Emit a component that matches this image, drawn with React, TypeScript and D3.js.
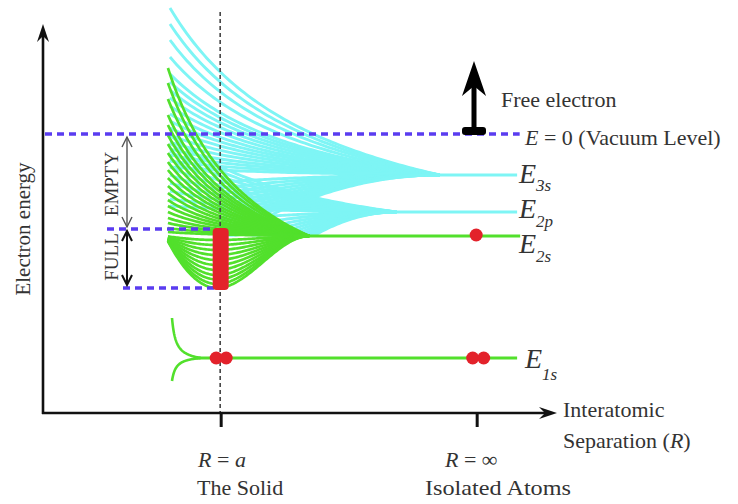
import React from "react";
import * as d3 from "d3";

// ---- data (energies in arbitrary units, E = 0 is the vacuum level; R in arbitrary units) ----
const R_A = 3.48; // R = a (the solid)
const R_INF = 8.48; // R = ∞ (isolated atoms)
const R_START = 2.44; // left edge of band curves
const R_END = 9.26; // right end of atomic levels

const E_VAC = 0;
const E_3S = -4.1;
const E_2P = -7.8;
const E_2S = -10.2;
const E_1S = -22.4;
const E_BAND_TOP = -9.5;
const E_BAND_BOTTOM = -15.4;

// convergence points of each band
const R_CONV_3S = 7.75;
const R_CONV_2P = 6.9;
const R_CONV_2S = 5.2;
const R_MIN_2S = 3.4;
const R_CONV_1S = 3.08;

// starting energies of the split levels
const cyan3sUpper = [
  12.6, 11.0, 9.4, 7.7, 6.0, 5.2, 4.4, 3.6, 2.8, 2.0, 1.3, 0.6, -0.1, -0.8, -1.5, -2.1, -2.7, -3.3,
];
const cyan3sLower = [-4.8, -5.4, -6.0, -6.6, -7.2, -7.8, -8.4, -9.0, -9.6, -10.2, -10.8];
const cyan2pUpper = [-0.1, -0.9, -1.7, -2.5, -3.3, -4.1, -4.9, -5.7, -6.5, -7.2];
const cyan2pLower = [-8.6, -9.6, -10.6, -11.6, -12.6, -13.6, -14.6, -15.6, -16.6, -17.6, -18.5];
const green2sUpper = [
  6.6, 5.1, 3.5, 1.9, 0.9, -0.1, -1.0, -1.9, -2.8, -3.6, -4.4, -5.2, -5.9, -6.6, -7.2, -7.8, -8.4, -8.9, -9.4, -9.8,
];
const green2sLowerDepth = [0.4, 0.9, 1.4, 1.9, 2.4, 2.9, 3.4, 3.9, 4.35, 4.8, 5.2];
const green1sFork = [-18.4, -24.7];

const CYAN = "#7ef5f5";
const GREEN = "#52e02c";
const RED = "#e3222b";
const BLUE = "#5a3cf0";
const TEXT = "#333";
const FONT = "'Liberation Serif', 'Times New Roman', serif";

const W = 738;
const H = 504;

const x = d3.scaleLinear().domain([0, 10]).range([43, 555]);
const y = d3.scaleLinear().domain([-27.9, 13.4]).range([413, 0]);

const line = d3
  .line<[number, number]>()
  .x((d) => x(d[0]))
  .y((d) => y(d[1]));

function samples(r0: number, r1: number, n = 80) {
  return d3.range(n + 1).map((i) => r0 + ((r1 - r0) * i) / n);
}

// 1/R-like approach to the atomic level
function hyper(r: number, r0: number, rc: number, r1: number) {
  const a = 1 / (r - r1) - 1 / (rc - r1);
  const b = 1 / (r0 - r1) - 1 / (rc - r1);
  return a / b;
}

function hyperCurve(e0: number, level: number, r0: number, rc: number, r1: number) {
  return line(samples(r0, rc).map((r) => [r, level + (e0 - level) * hyper(r, r0, rc, r1)] as [number, number])) || "";
}

function quadCurve(e0: number, level: number, r0: number, rc: number) {
  return line(
    samples(r0, rc).map((r) => {
      const s = (r - r0) / (rc - r0);
      return [r, level + (e0 - level) * (1 - s) * (1 - s)] as [number, number];
    })
  ) || "";
}

function uCurve(depth: number) {
  return line(
    samples(R_START, R_CONV_2S, 100).map((r) => {
      let u: number;
      if (r <= R_MIN_2S) {
        const s = (r - R_START) / (R_MIN_2S - R_START);
        u = 0.1 + 0.9 * (1 - (1 - s) * (1 - s));
      } else {
        const s = (r - R_MIN_2S) / (R_CONV_2S - R_MIN_2S);
        u = 1 - (3 * s * s - 2 * s * s * s);
      }
      return [r, E_2S - depth * u] as [number, number];
    })
  ) || "";
}

const CYAN_R1 = x.invert(12.6);
const GREEN_R1 = x.invert(80);
const FORK_R1 = x.invert(168);
const FORK_R0 = x.invert(172);

function hLine(e: number, r0: number, r1: number) {
  return line([
    [r0, e],
    [r1, e],
  ]) || "";
}

export default function App() {
  const xa = x(R_A);
  const xi = x(R_INF);
  const yAxisX = x(0);
  const xAxisY = y(-27.9);

  return (
    <svg width={W} height={H} style={{ position: "absolute", left: 0, top: 0, background: "#fff", fontFamily: FONT }}>
      <defs>
        <clipPath id="aboveTwoS">
          <rect x={0} y={0} width={W} height={y(E_2S) + 0.5} />
        </clipPath>
      </defs>

      {/* cyan bands: 3s and 2p */}
      <g clipPath="url(#aboveTwoS)" fill="none" stroke={CYAN} strokeWidth={2.9}>
        {cyan3sUpper.map((e, i) => (
          <path key={"a" + i} d={hyperCurve(e, E_3S, R_START + 0.04, R_CONV_3S, CYAN_R1)} />
        ))}
        {cyan3sLower.map((e, i) => (
          <path key={"b" + i} d={quadCurve(e, E_3S, R_A, R_CONV_3S)} />
        ))}
        {cyan2pUpper.map((e, i) => (
          <path key={"c" + i} d={hyperCurve(e, E_2P, R_START + 0.04, R_CONV_2P, CYAN_R1)} />
        ))}
        {cyan2pLower.map((e, i) => (
          <path key={"d" + i} d={quadCurve(e, E_2P, R_A, R_CONV_2P)} />
        ))}
        <path d={hLine(E_3S, R_CONV_3S - 0.3, R_END)} strokeWidth={3} />
        <path d={hLine(E_2P, R_CONV_2P - 0.3, R_END)} strokeWidth={3} />
      </g>

      {/* green 2s band */}
      <g fill="none" stroke={GREEN} strokeWidth={2.7}>
        {green2sUpper.map((e, i) => (
          <path key={"g" + i} d={hyperCurve(e, E_2S, R_START, R_CONV_2S, GREEN_R1)} />
        ))}
        {green2sLowerDepth.map((dd, i) => (
          <path key={"l" + i} d={uCurve(dd)} />
        ))}
        <path d={hLine(E_2S, R_CONV_2S - 0.3, R_END + 0.06)} strokeWidth={3.2} />
        {/* 1s level */}
        {green1sFork.map((e, i) => (
          <path key={"f" + i} d={hyperCurve(e, E_1S, FORK_R0, R_CONV_1S, FORK_R1)} strokeWidth={2.6} />
        ))}
        <path d={hLine(E_1S, R_CONV_1S - 0.1, R_END)} strokeWidth={3} />
      </g>

      {/* vertical dashed line at R = a */}
      <line x1={xa - 1} x2={xa - 1} y1={12} y2={xAxisY} stroke="#444" strokeWidth={1.6} strokeDasharray="4 3" />

      {/* blue dashed levels */}
      <g stroke={BLUE} strokeWidth={3.4} strokeDasharray="7 5" fill="none">
        <line x1={yAxisX + 2} x2={x(R_END + 0.05)} y1={y(E_VAC)} y2={y(E_VAC)} />
        <line x1={107} x2={xa - 6} y1={y(E_BAND_TOP)} y2={y(E_BAND_TOP)} />
        <line x1={123} x2={xa} y1={y(E_BAND_BOTTOM)} y2={y(E_BAND_BOTTOM)} />
      </g>

      {/* occupied states */}
      <rect x={xa - 8.5} y={y(E_BAND_TOP) - 1} width={16} height={y(E_BAND_BOTTOM) - y(E_BAND_TOP) + 3} rx={4} fill={RED} />
      <g fill={RED}>
        <circle cx={xa - 5} cy={y(E_1S)} r={6.5} />
        <circle cx={xa + 5} cy={y(E_1S)} r={6.5} />
        <circle cx={xi - 4.5} cy={y(E_1S)} r={6.5} />
        <circle cx={xi + 6.5} cy={y(E_1S)} r={6.5} />
        <circle cx={xi - 1} cy={y(E_2S) - 1} r={6.5} />
      </g>

      {/* axes */}
      <g stroke="#111" strokeWidth={2.6} fill="none">
        <line x1={yAxisX} x2={yAxisX} y1={xAxisY + 1} y2={32} />
        <line x1={yAxisX - 1} x2={551} y1={xAxisY} y2={xAxisY} />
        <line x1={xa} x2={xa} y1={xAxisY} y2={xAxisY + 14} strokeWidth={3} />
        <line x1={xi} x2={xi} y1={xAxisY} y2={xAxisY + 14} strokeWidth={3} />
      </g>
      <path d={`M${yAxisX},24 L${yAxisX - 6},42 L${yAxisX},36 L${yAxisX + 6},42 Z`} fill="#111" />
      <path d={`M557,${xAxisY} L539,${xAxisY - 6} L545,${xAxisY} L539,${xAxisY + 6} Z`} fill="#111" />

      {/* free electron arrow */}
      <g fill="#000">
        <path d={`M474,61 L462,96 L474,86 L486,96 Z`} />
        <rect x={471.5} y={84} width={5} height={46} />
        <rect x={462} y={127} width={24} height={8} rx={3} />
      </g>

      {/* EMPTY / FULL arrows */}
      <g fill="none">
        <line x1={127} x2={127} y1={137} y2={227} stroke="#555" strokeWidth={1.4} />
        <path d="M122,147 L127,137 L132,147 M122,217 L127,227 L132,217" stroke="#555" strokeWidth={1.4} />
        <line x1={127} x2={127} y1={231} y2={285} stroke="#111" strokeWidth={2} />
        <path d="M122,241 L127,231 L132,241 M122,275 L127,285 L132,275" stroke="#111" strokeWidth={2} />
      </g>

      {/* texts */}
      <g fill={TEXT} fontSize={22} fontFamily={FONT}>
        <text x={501} y={107}>Free electron</text>
        <text x={525} y={145}>
          <tspan fontStyle="italic">E</tspan> = 0 (Vacuum Level)
        </text>
        <text transform="translate(30,229) rotate(-90)" textAnchor="middle" fontSize={21}>
          Electron energy
        </text>
        <text transform="translate(118,184) rotate(-90)" textAnchor="middle" fontSize={19}>
          EMPTY
        </text>
        <text transform="translate(118,257) rotate(-90)" textAnchor="middle" fontSize={19}>
          FULL
        </text>
        <text x={198} y={467}>
          <tspan fontStyle="italic">R</tspan> = <tspan fontStyle="italic">a</tspan>
        </text>
        <text x={197} y={495}>The Solid</text>
        <text x={445} y={467}>
          <tspan fontStyle="italic">R</tspan> = ∞
        </text>
        <text x={425} y={495} textLength={146} lengthAdjust="spacingAndGlyphs">
          Isolated Atoms
        </text>
        <text x={563} y={417}>Interatomic</text>
        <text x={563} y={448}>
          Separation (<tspan fontStyle="italic">R</tspan>)
        </text>
      </g>

      {/* level labels */}
      <g fill={TEXT} fontStyle="italic" fontFamily={FONT}>
        <text x={519} y={183} fontSize={28}>
          E<tspan fontSize={17} dy={8}>3s</tspan>
        </text>
        <text x={519} y={218} fontSize={28}>
          E<tspan fontSize={17} dy={9}>2p</tspan>
        </text>
        <text x={519} y={253} fontSize={28}>
          E<tspan fontSize={17} dy={9}>2s</tspan>
        </text>
        <text x={525} y={368} fontSize={28}>
          E<tspan fontSize={17} dy={12}>1s</tspan>
        </text>
      </g>
    </svg>
  );
}
